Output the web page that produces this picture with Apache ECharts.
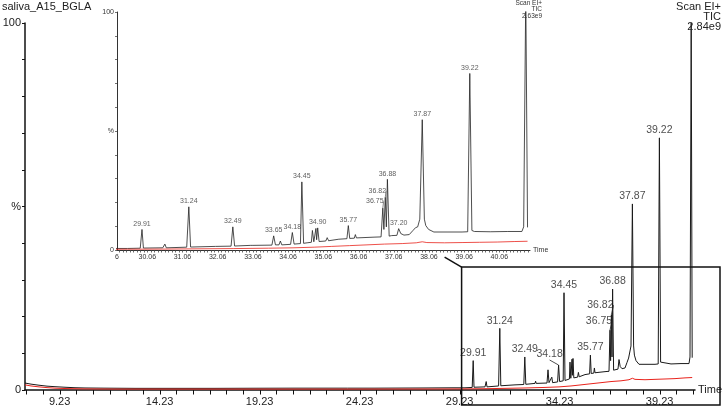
<!DOCTYPE html>
<html><head><meta charset="utf-8">
<script src="https://cdn.jsdelivr.net/npm/echarts@6/dist/echarts.min.js"></script>
<style>html,body{margin:0;padding:0;background:#fff}#c{width:725px;height:407px}</style>
</head><body><div id="c"></div><script>
// ---------------- data ----------------
const sampleName = 'saliva_A15_BGLA';
const mainHeader = ['Scan EI+', 'TIC', '2.84e9'];
const insetHeader = ['Scan EI+', 'TIC', '2.63e9'];
const mainMaxIntensity = 2.84e9;
const insetMaxIntensity = 2.63e9;

// TIC trace (retention time, % of 2.84e9)
const ticTime = [7.5,7.8,8.2,8.6,9.0,9.5,10.0,10.5,11.5,13,15,17,19,21,23.5,23.62,23.65,23.68,24.95,25.0,25.05,27.45,27.5,27.55,28.9,29.5,
  29.86,29.91,29.95,30.5,30.56,30.6,31.18,31.24,31.29,32.0,32.44,32.49,32.54,33.0,33.03,33.06,33.6,33.65,33.7,33.8,33.84,33.88,
  34.13,34.18,34.23,34.41,34.45,34.5,34.6,34.72,34.75,34.79,34.82,34.85,34.87,34.9,34.94,35.13,35.17,35.21,35.5,35.73,35.77,35.81,
  35.94,35.97,36.0,36.5,36.7,36.75,36.78,36.82,36.85,36.88,36.93,37.0,37.15,37.2,37.26,37.35,37.5,37.6,37.68,37.74,37.8,37.87,37.93,
  37.97,38.05,38.2,38.6,39.0,39.16,39.22,39.28,39.35,39.8,40.3,40.7,40.75,40.81,40.86];
const ticPct = [1.9,1.6,1.3,1.05,0.9,0.75,0.62,0.55,0.5,0.45,0.45,0.45,0.48,0.5,0.5,0.5,0.9,0.5,0.5,0.85,0.5,0.55,0.9,0.55,0.6,0.6,
  0.7,8.0,0.75,0.85,2.3,0.85,1.1,16.8,1.15,1.4,1.5,9.0,1.55,1.8,2.4,1.8,1.9,5.5,2.0,2.0,3.5,2.0,
  2.2,6.8,2.3,2.5,26.5,2.6,2.8,3.0,7.6,3.2,3.3,8.4,4.0,8.6,3.3,3.5,4.8,3.6,4.2,4.4,9.5,4.5,
  4.6,6.0,4.7,5.0,5.1,16.3,8.0,20.5,9.0,27.5,5.4,5.6,5.7,8.3,6.4,5.8,6.0,7.5,8.7,9.0,12,50.7,12,
  9.5,8.0,7.0,7.0,7.0,7.1,68.7,7.6,7.2,7.1,7.2,7.2,9.0,100,8.8];

// blank / reference trace (red)
const blankTime = [7.5,7.8,8.2,8.6,9.0,9.5,10.5,12,16,20,24,28,29.5,30.5,31.5,32.5,33.5,34.2,34.8,35.3,35.8,36.3,36.8,37.3,37.7,37.87,38.0,38.5,39.0,39.5,40.0,40.5,40.86];
const blankPct = [1.4,1.1,0.85,0.65,0.5,0.4,0.3,0.25,0.25,0.25,0.25,0.28,0.3,0.35,0.45,0.55,0.7,0.85,1.1,1.4,1.7,2.0,2.3,2.5,2.8,3.2,2.9,2.8,2.9,3.0,3.1,3.3,3.4];

const mainPeakLabels = ['29.91','31.24','32.49','34.18','34.45','35.77','36.75','36.82','36.88','37.87','39.22'];
const insetPeakLabels = ['29.91','31.24','32.49','33.65','34.18','34.45','34.90','35.77','36.75','36.82','36.88','37.20','37.87','39.22'];
const mainXTickLabels = ['9.23','14.23','19.23','24.23','29.23','34.23','39.23'];
const insetXTickLabels = ['29.06','30.06','31.06','32.06','33.06','34.06','35.06','36.06','37.06','38.06','39.06','40.06'];

// ---------------- layout / style ----------------
const FONT = 'Liberation Sans, Arial, Helvetica, sans-serif';
const mainX = {min: 7.5, max: 41};
const insetX = {min: 29.2, max: 40.93};
const zoomBox = {x0: 29.33, yTop: 33.5};
const mainLeader = {'34.18': [-9, -3], '36.75': [-11, -2], '36.82': [-11, -2]};
const insetLeader = {'36.75': [-8, -1], '36.82': [-8, -1]};

const scale = mainMaxIntensity / insetMaxIntensity;
const mainTic = ticTime.map((t, i) => [t, ticPct[i]]);
const mainBlank = blankTime.map((t, i) => [t, blankPct[i]]);
const insetTic = ticTime.map((t, i) => [t, ticPct[i] * scale]);
const insetBlank = blankTime.map((t, i) => [t, blankPct[i] * scale]);

function labelPoints(labels, pts, leaders) {
  return labels.map(l => {
    const t = parseFloat(l);
    const p = pts.find(q => Math.abs(q[0] - t) < 1e-6);
    const item = {value: p, name: l};
    if (leaders[l]) item.labelLine = {show: true};
    return item;
  });
}

// tick positions along the time axes
const mainStep = 5 / 6;
const mainTicks = [];
for (let v = 9.23 - 2 * mainStep; v <= mainX.max; v += mainStep) if (v >= mainX.min) mainTicks.push(+v.toFixed(3));
const insetTicks = [];
for (let v = 29.26; v <= insetX.max; v += 0.1) insetTicks.push(+v.toFixed(3));

const yFmt = v => v === 100 ? '100' : v === 50 ? '%' : v === 0 ? '0' : '';

const chart = echarts.init(document.getElementById('c'), null, {renderer: 'canvas'});
chart.setOption({
  animation: false,
  backgroundColor: '#fff',
  textStyle: {fontFamily: FONT},
  grid: [
    {left: 25, right: 30, top: 23, bottom: 17, containLabel: false, outerBoundsMode: 'none'},
    {left: 117, right: 195, top: 12, bottom: 157, containLabel: false, outerBoundsMode: 'none'}
  ],
  xAxis: [
    {gridIndex: 0, type: 'value', min: mainX.min, max: mainX.max,
     name: 'Time', nameLocation: 'end', nameGap: 3,
     nameTextStyle: {fontSize: 11, color: '#222', fontFamily: FONT, verticalAlign: 'middle', padding: [2, 0, 0, 0]},
     axisLine: {lineStyle: {color: '#111', width: 1.5}},
     axisTick: {show: false},
     axisLabel: {fontSize: 11, color: '#222', fontFamily: FONT, margin: 6,
       customValues: mainXTickLabels.map(parseFloat), formatter: v => v.toFixed(2)},
     splitLine: {show: false}},
    {gridIndex: 1, type: 'value', min: insetX.min, max: insetX.max,
     name: 'Time', nameLocation: 'end', nameGap: 3,
     nameTextStyle: {fontSize: 7, color: '#333', fontFamily: FONT, verticalAlign: 'middle'},
     axisLine: {lineStyle: {color: '#333', width: 1}},
     axisTick: {show: false},
     axisLabel: {fontSize: 7, color: '#333', fontFamily: FONT, margin: 4,
       // first tick label (29.06) lies left of the axis start; only its last digit is visible
       customValues: insetXTickLabels.map(s => Math.max(parseFloat(s), insetX.min)),
       formatter: v => {
         const s = insetXTickLabels.find(l => Math.abs(parseFloat(l) - v) < 1e-6);
         return s ? s : insetXTickLabels[0].slice(-1);
       }},
     splitLine: {show: false}}
  ],
  yAxis: [
    {gridIndex: 0, type: 'value', min: 0, max: 100, interval: 10,
     axisLine: {show: true, lineStyle: {color: '#111', width: 1.5}},
     axisTick: {show: true, length: 3, lineStyle: {color: '#111'}},
     axisLabel: {fontSize: 11, color: '#222', fontFamily: FONT, margin: 4, formatter: yFmt, showMinLabel: true, showMaxLabel: true},
     splitLine: {show: false}},
    {gridIndex: 1, type: 'value', min: 0, max: 100, interval: 10,
     axisLine: {show: true, lineStyle: {color: '#333', width: 1}},
     axisTick: {show: true, length: 2, lineStyle: {color: '#333', width: 0.7}},
     axisLabel: {fontSize: 7, color: '#333', fontFamily: FONT, margin: 3, formatter: yFmt},
     splitLine: {show: false}}
  ],
  series: [
    {type: 'line', xAxisIndex: 0, yAxisIndex: 0, data: mainTic, symbol: 'none', clip: true,
     lineStyle: {color: '#1a1a1a', width: 1}, z: 3},
    {type: 'line', xAxisIndex: 0, yAxisIndex: 0, data: mainBlank, symbol: 'none', clip: true,
     lineStyle: {color: '#e8231c', width: 1}, z: 4},
    {type: 'scatter', xAxisIndex: 0, yAxisIndex: 0, symbolSize: 0.1, silent: true,
     data: labelPoints(mainPeakLabels, mainTic, mainLeader),
     label: {show: true, position: 'top', distance: 2, fontSize: 10.5, color: '#222', fontFamily: FONT, formatter: p => p.name},
     labelLine: {show: false, lineStyle: {color: '#222', width: 0.8}},
     labelLayout: p => { const d = mainLeader[mainPeakLabels[p.dataIndex]]; return d ? {dx: d[0], dy: d[1]} : {}; },
     z: 5},
    {type: 'line', xAxisIndex: 1, yAxisIndex: 1, data: insetTic, symbol: 'none', clip: true,
     lineStyle: {color: '#222', width: 0.8}, z: 3},
    {type: 'line', xAxisIndex: 1, yAxisIndex: 1, data: insetBlank, symbol: 'none', clip: true,
     lineStyle: {color: '#e8231c', width: 0.8}, z: 4},
    {type: 'scatter', xAxisIndex: 1, yAxisIndex: 1, symbolSize: 0.1, silent: true,
     data: labelPoints(insetPeakLabels, insetTic, insetLeader),
     label: {show: true, position: 'top', distance: 2, fontSize: 7, color: '#333', fontFamily: FONT, formatter: p => p.name},
     labelLine: {show: false, lineStyle: {color: '#333', width: 0.6}},
     labelLayout: p => { const d = insetLeader[insetPeakLabels[p.dataIndex]]; return d ? {dx: d[0], dy: d[1]} : {}; },
     z: 5}
  ]
});

// decorations: titles, headers, axis ticks, zoom box
const tl = chart.convertToPixel({gridIndex: 0}, [zoomBox.x0, zoomBox.yTop]);
const insetRight = chart.convertToPixel({gridIndex: 1}, [insetX.max, 100]);
const boxLeft = tl[0], boxTop = tl[1], boxRight = 720, boxBottom = 405;
const gfx = [
  {type: 'text', left: 2, top: 1, z: 100,
   style: {text: sampleName, font: '11px ' + FONT, fill: '#222'}}
];
mainHeader.forEach((s, i) => gfx.push({type: 'text', x: 721, y: 1 + i * 10, z: 100,
  style: {text: s, font: '11px ' + FONT, fill: '#222', align: 'right', verticalAlign: 'top'}}));
insetHeader.forEach((s, i) => gfx.push({type: 'text', x: insetRight[0] + 12, y: 0 + i * 6.2, z: 100,
  style: {text: s, font: '6.5px ' + FONT, fill: '#333', align: 'right', verticalAlign: 'top'}}));
const y0Main = chart.convertToPixel({yAxisIndex: 0}, 0);
const y0Inset = chart.convertToPixel({yAxisIndex: 1}, 0);
mainTicks.forEach(v => {
  const p = Math.round(chart.convertToPixel({xAxisIndex: 0}, v)) + 0.5;
  gfx.push({type: 'line', z: 50, silent: true, shape: {x1: p, y1: y0Main, x2: p, y2: y0Main + 4.5},
    style: {stroke: '#111', lineWidth: 1}});
});
insetTicks.forEach(v => {
  const p = Math.round(chart.convertToPixel({xAxisIndex: 1}, v)) + 0.5;
  gfx.push({type: 'line', z: 50, silent: true, shape: {x1: p, y1: y0Inset, x2: p, y2: y0Inset + 2.5},
    style: {stroke: '#444', lineWidth: 0.8}});
});
gfx.push({type: 'rect', z: 100, silent: true,
  shape: {x: boxLeft, y: boxTop, width: boxRight - boxLeft, height: boxBottom - boxTop},
  style: {fill: 'none', stroke: '#111', lineWidth: 1.5}});
gfx.push({type: 'line', z: 100, silent: true,
  shape: {x1: boxLeft - 17, y1: boxTop - 10, x2: boxLeft, y2: boxTop},
  style: {stroke: '#111', lineWidth: 1.5}});
chart.setOption({graphic: gfx});
</script></body></html>
